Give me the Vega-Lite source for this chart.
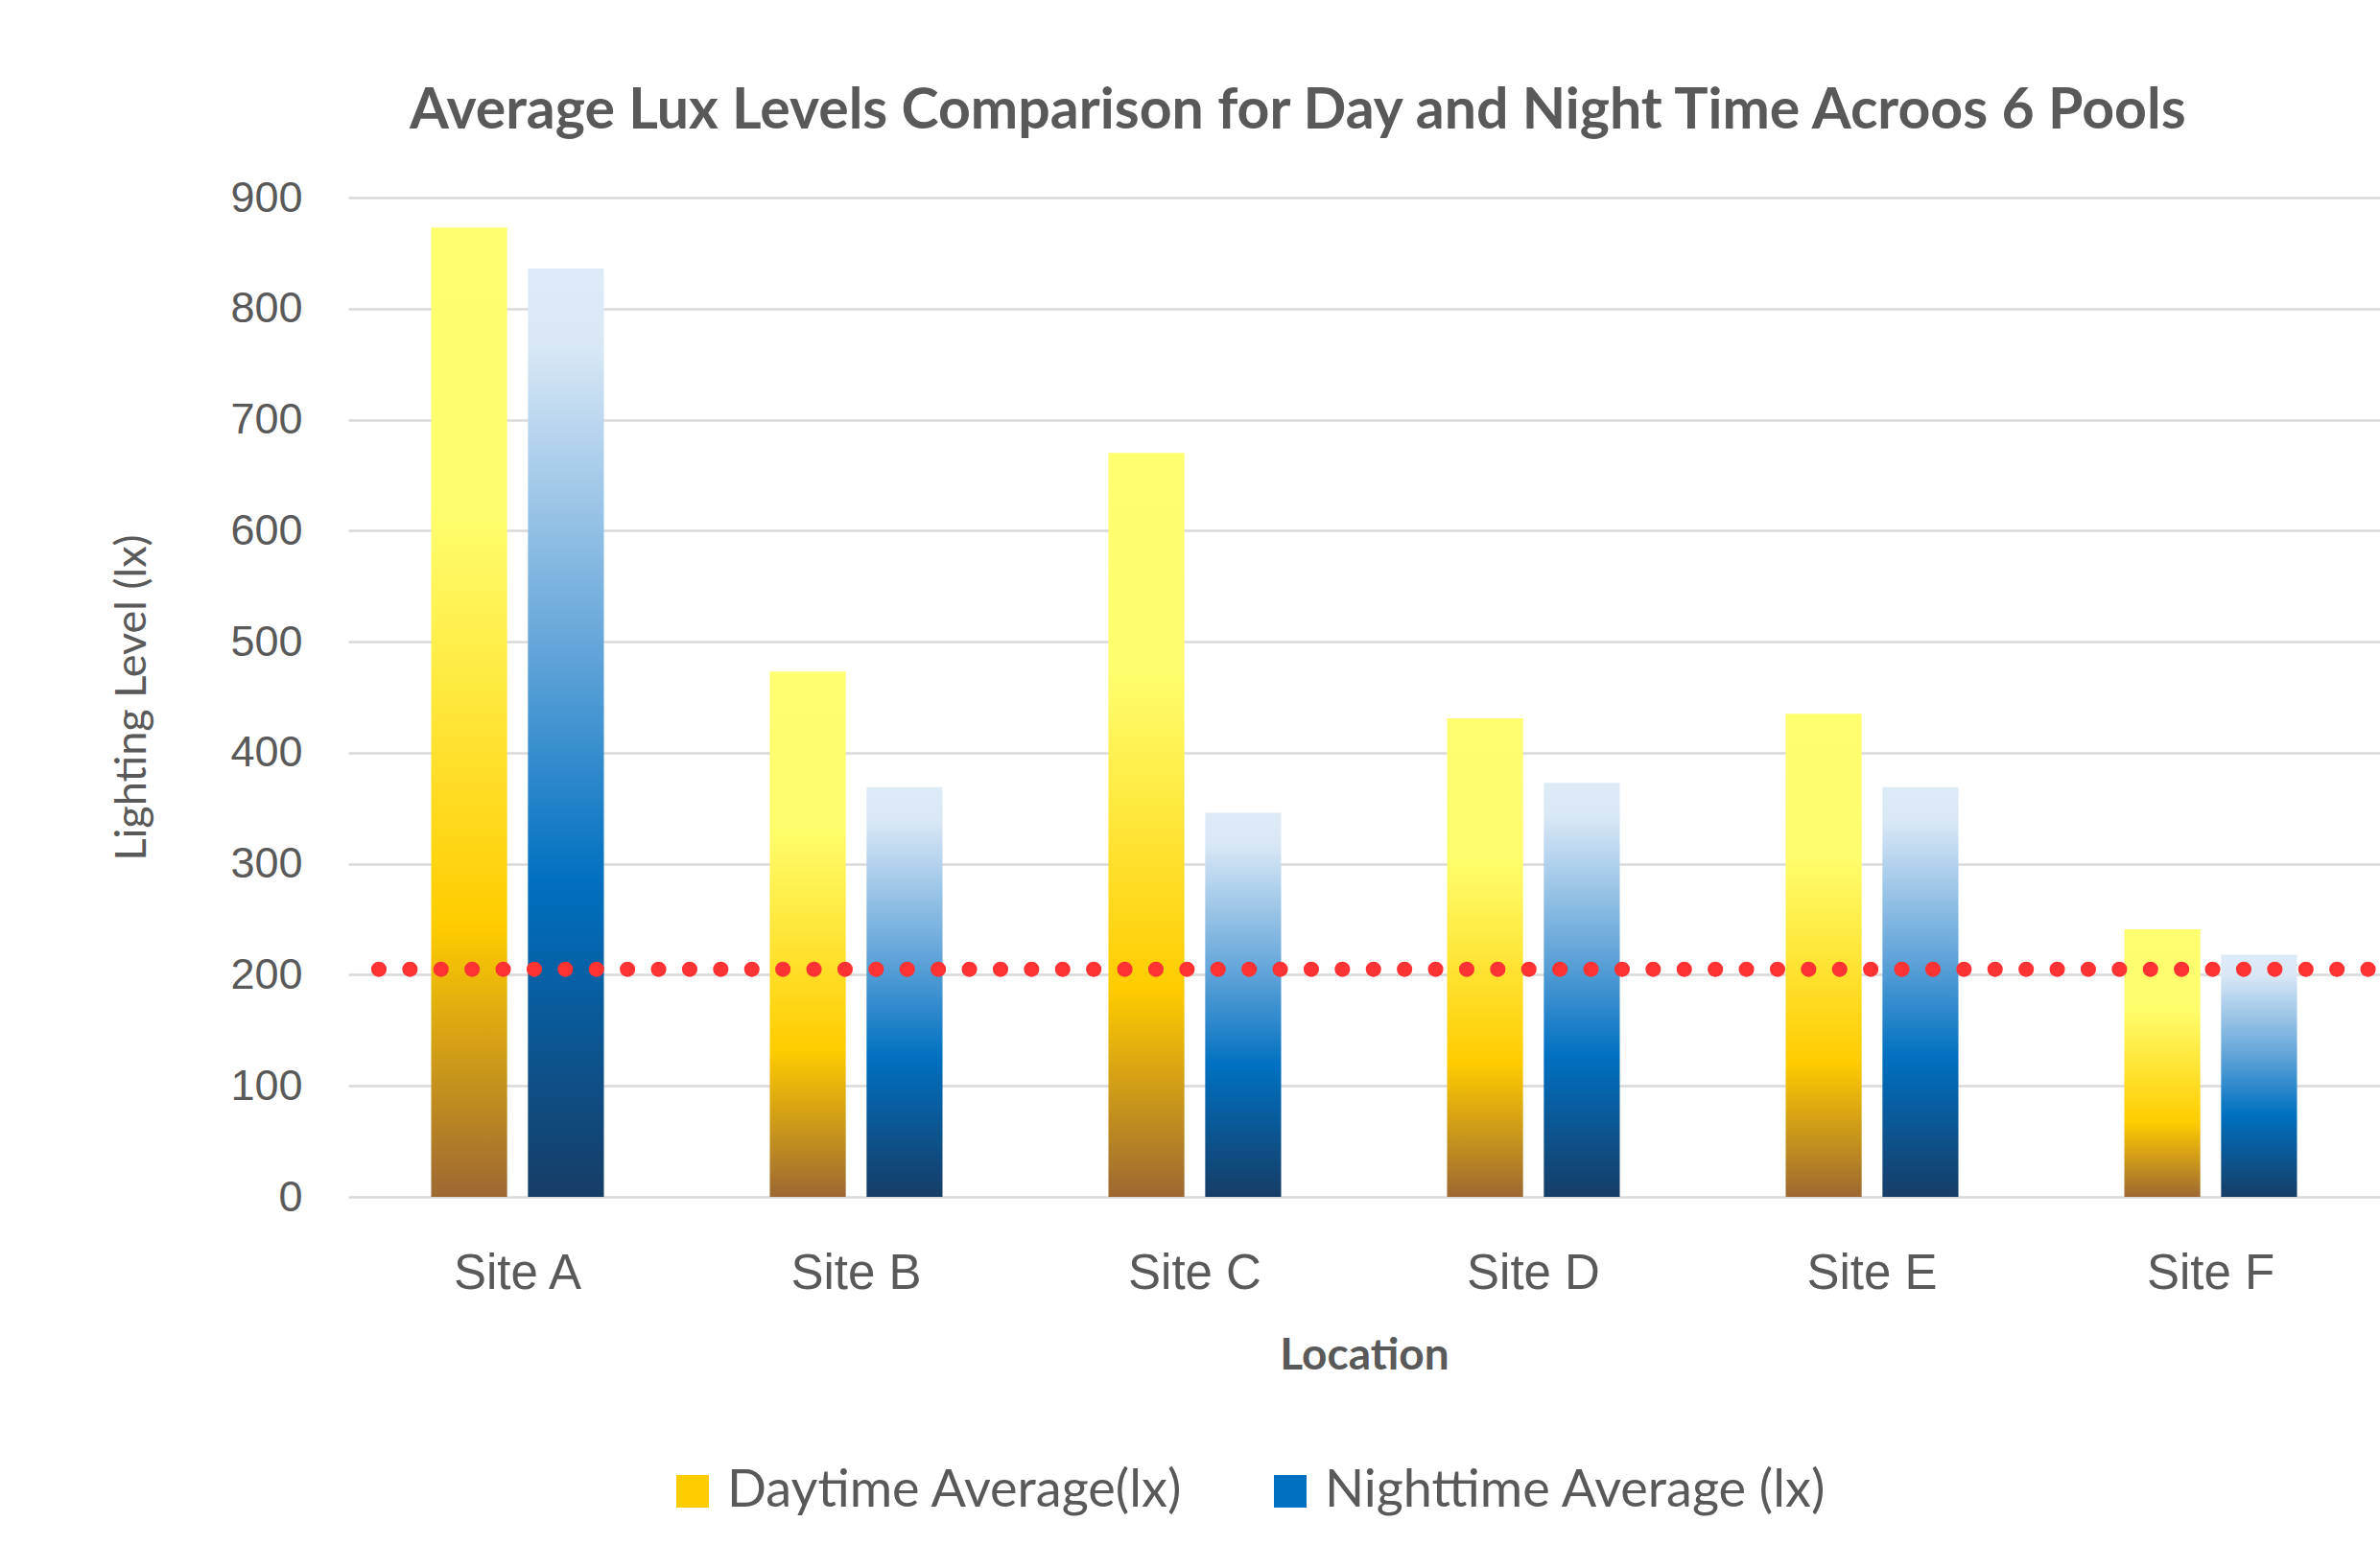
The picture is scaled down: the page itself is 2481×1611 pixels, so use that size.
{
  "$schema": "https://vega.github.io/schema/vega-lite/v6.json",
  "width": 2118,
  "height": 1042,
  "autosize": {"type": "none"},
  "padding": {"left": 363, "top": 206, "right": 0, "bottom": 363},
  "background": "white",
  "config": {"view": {"stroke": null}},
  "title": {
    "text": "Average Lux Levels Comparison for Day and Night Time Acroos 6 Pools",
    "anchor": "start",
    "frame": "group",
    "dx": 64,
    "offset": 38,
    "font": "Lato",
    "fontWeight": "bold",
    "fontSize": 59,
    "color": "#595959"
  },
  "data": {
    "values": [
      {"site": "Site A", "series": "Daytime Average(lx)", "lux": 873},
      {"site": "Site A", "series": "Nighttime Average (lx)", "lux": 836},
      {"site": "Site B", "series": "Daytime Average(lx)", "lux": 473},
      {"site": "Site B", "series": "Nighttime Average (lx)", "lux": 369},
      {"site": "Site C", "series": "Daytime Average(lx)", "lux": 670},
      {"site": "Site C", "series": "Nighttime Average (lx)", "lux": 346},
      {"site": "Site D", "series": "Daytime Average(lx)", "lux": 431},
      {"site": "Site D", "series": "Nighttime Average (lx)", "lux": 373},
      {"site": "Site E", "series": "Daytime Average(lx)", "lux": 435},
      {"site": "Site E", "series": "Nighttime Average (lx)", "lux": 369},
      {"site": "Site F", "series": "Daytime Average(lx)", "lux": 241},
      {"site": "Site F", "series": "Nighttime Average (lx)", "lux": 218}
    ]
  },
  "encoding": {
    "x": {
      "field": "site",
      "type": "nominal",
      "title": "Location",
      "scale": {"paddingInner": 0.49, "paddingOuter": 0.245},
      "axis": {
        "labelAngle": 0,
        "labelFont": "Liberation Sans",
        "labelFontSize": 51,
        "labelColor": "#595959",
        "labelPadding": 55,
        "ticks": false,
        "domain": false,
        "titleFont": "Lato",
        "titleFontSize": 46,
        "titleFontWeight": "bold",
        "titleColor": "#595959",
        "titlePadding": 38
      }
    },
    "xOffset": {
      "field": "series",
      "type": "nominal",
      "scale": {"domain": ["Daytime Average(lx)", "Nighttime Average (lx)"], "paddingInner": 0.215, "paddingOuter": 0}
    },
    "y": {
      "field": "lux",
      "type": "quantitative",
      "title": "Lighting Level (lx)",
      "scale": {"domain": [0, 900]},
      "axis": {
        "values": [0, 100, 200, 300, 400, 500, 600, 700, 800, 900],
        "labelFont": "Liberation Sans",
        "labelFontSize": 45,
        "labelColor": "#595959",
        "labelPadding": 48,
        "ticks": false,
        "domain": false,
        "gridColor": "#D9D9D9",
        "gridWidth": 2.5,
        "titleFont": "Lato",
        "titleFontSize": 45,
        "titleFontWeight": "normal",
        "titleColor": "#595959",
        "titlePadding": 79
      }
    }
  },
  "layer": [
    {
      "transform": [{"filter": "datum.series === 'Daytime Average(lx)'"}],
      "mark": {
        "type": "bar",
        "color": {"gradient": "linear", "x1": 0, "y1": 0, "x2": 0, "y2": 1, "stops": [
          {"offset": 0, "color": "#FFFF70"},
          {"offset": 0.3, "color": "#FFFD6C"},
          {"offset": 0.72, "color": "#FFCC00"},
          {"offset": 1, "color": "#9C6832"}
        ]}
      }
    },
    {
      "transform": [{"filter": "datum.series === 'Nighttime Average (lx)'"}],
      "mark": {
        "type": "bar",
        "color": {"gradient": "linear", "x1": 0, "y1": 0, "x2": 0, "y2": 1, "stops": [
          {"offset": 0, "color": "#DDEBF7"},
          {"offset": 0.08, "color": "#DAE8F6"},
          {"offset": 0.42, "color": "#5FA3D8"},
          {"offset": 0.66, "color": "#0070C0"},
          {"offset": 1, "color": "#163D66"}
        ]}
      }
    },
    {
      "mark": {"type": "bar", "opacity": 0},
      "encoding": {
        "color": {
          "field": "series",
          "type": "nominal",
          "scale": {
            "domain": ["Daytime Average(lx)", "Nighttime Average (lx)"],
            "range": ["#FFCC00", "#0070C0"]
          },
          "legend": {
            "orient": "none",
            "legendX": 332,
            "legendY": 1322,
            "direction": "horizontal",
            "title": null,
            "symbolType": "square",
            "symbolSize": 1156,
            "symbolStrokeWidth": 0,
            "symbolOpacity": 1,
            "labelFont": "Lato",
            "labelFontSize": 54,
            "labelColor": "#595959",
            "labelOffset": 9,
            "labelLimit": 0,
            "columnPadding": 84,
            "padding": 0,
            "encode": {
              "symbols": {
                "enter": {
                  "fill": {"signal": "datum.value === 'Daytime Average(lx)' ? {gradient: 'linear', x1: 0, y1: 0, x2: 0, y2: 1, stops: [{offset: 0, color: '#FFFF70'}, {offset: 0.3, color: '#FFFD6C'}, {offset: 0.72, color: '#FFCC00'}, {offset: 1, color: '#9C6832'}]} : {gradient: 'linear', x1: 0, y1: 0, x2: 0, y2: 1, stops: [{offset: 0, color: '#DDEBF7'}, {offset: 0.08, color: '#DAE8F6'}, {offset: 0.42, color: '#5FA3D8'}, {offset: 0.66, color: '#0070C0'}, {offset: 1, color: '#163D66'}]}"}
                },
                "update": {
                  "fill": {"signal": "datum.value === 'Daytime Average(lx)' ? {gradient: 'linear', x1: 0, y1: 0, x2: 0, y2: 1, stops: [{offset: 0, color: '#FFFF70'}, {offset: 0.3, color: '#FFFD6C'}, {offset: 0.72, color: '#FFCC00'}, {offset: 1, color: '#9C6832'}]} : {gradient: 'linear', x1: 0, y1: 0, x2: 0, y2: 1, stops: [{offset: 0, color: '#DDEBF7'}, {offset: 0.08, color: '#DAE8F6'}, {offset: 0.42, color: '#5FA3D8'}, {offset: 0.66, color: '#0070C0'}, {offset: 1, color: '#163D66'}]}"},
                  "opacity": {"value": 1}
                }
              }
            }
          }
        }
      }
    },
    {
      "data": {"values": [{"threshold": 205}]},
      "mark": {
        "type": "rule",
        "color": "#FF3333",
        "strokeWidth": 16,
        "strokeDash": [0.1, 32.3],
        "strokeCap": "round",
        "strokeDashOffset": 20
      },
      "encoding": {
        "x": null,
        "xOffset": null,
        "y": {"field": "threshold", "type": "quantitative"}
      }
    }
  ]
}
